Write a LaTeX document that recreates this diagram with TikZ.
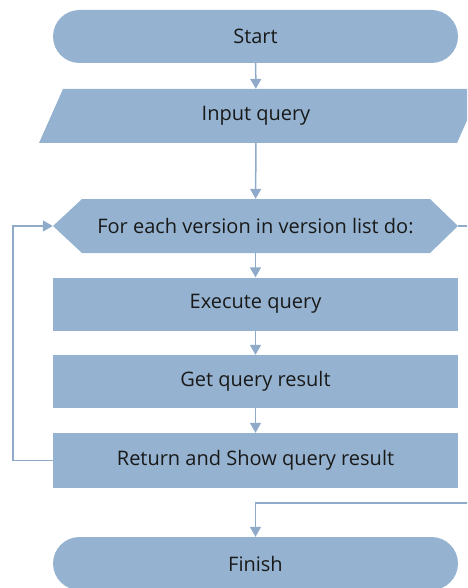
\documentclass[tikz,border=0pt]{standalone}
\usepackage{fontspec}
\setmainfont{Open Sans}
\usetikzlibrary{arrows.meta,shapes.misc}
\definecolor{fillc}{RGB}{149,179,208}
\definecolor{linec}{RGB}{143,171,201}
\definecolor{txtc}{RGB}{25,25,25}
\tikzset{
  lab/.style={font=\fontsize{20}{24}\selectfont, text=txtc, inner sep=0pt},
  procbox/.style={lab, fill=fillc, minimum width=405pt, minimum height=53pt},
  termbox/.style={lab, fill=fillc, rounded rectangle, minimum width=405pt, minimum height=53pt},
  flow/.style={draw=linec, line width=1.5pt},
  conn/.style={flow, -{Triangle[width=11pt,length=10pt]}},
}
\begin{document}
\begin{tikzpicture}[x=1pt,y=-1pt]
\useasboundingbox (0,0) rectangle (467,588);
\clip (0,0) rectangle (467,588);
% shapes
\fill[fillc] (63,89) -- (481,89) -- (457,143) -- (39,143) -- cycle;
\fill[fillc] (53,226) -- (82,199) -- (430,199) -- (458,226) -- (430,253) -- (82,253) -- cycle;
% nodes
\node[termbox] (start) at (255.5,36.5) {Start};
\node[lab, minimum width=405pt, minimum height=54pt] (input) at (256,116) {Input query};
\node[lab, minimum width=405pt, minimum height=54pt] (loop) at (255.5,226) {For each version in version list do:};
\node[procbox] (exec) at (255.5,304) {Execute query};
\node[procbox] (get) at (255.5,381.5) {Get query result};
\node[procbox, minimum height=55pt] (ret) at (255.5,460.5) {Return and Show query result};
\node[termbox] (finish) at (255.5,563.5) {Finish};
\coordinate (loopout) at (470,226);
\coordinate (exitin) at (470,503);
% connectors
\draw[conn] (start) -- (input);
\draw[conn] (input) -- (loop);
\draw[conn] (loop) -- (exec);
\draw[conn] (exec) -- (get);
\draw[conn] (get) -- (ret);
\draw[conn] (ret.west) -- ++(-40,0) |- (loop.west);
\draw[flow] (loop.east) -- (loopout);
\draw[conn] (exitin) -| (finish.north);
\end{tikzpicture}
\end{document}
